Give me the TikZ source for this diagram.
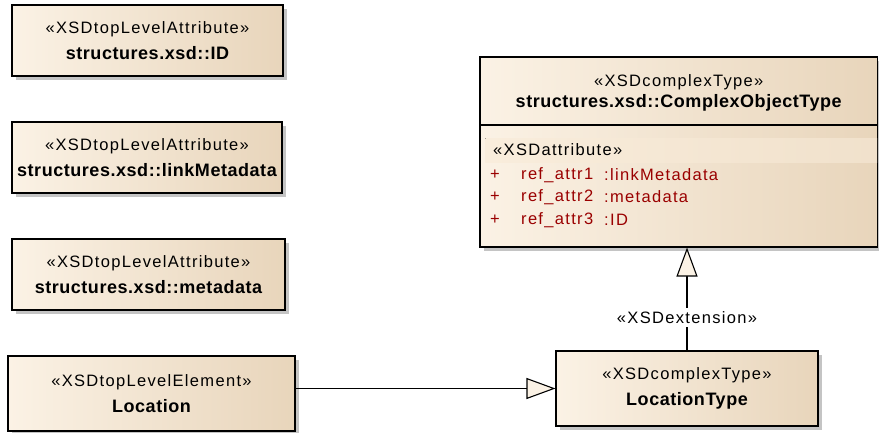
\documentclass[tikz,border=0pt]{standalone}
\usepackage{fontspec}
\setmainfont{Liberation Sans}
\newfontfamily\stereofont[LetterSpace=8]{Liberation Sans}
\newfontfamily\namefont[LetterSpace=3]{Liberation Sans Bold}
\usepackage{xcolor}
\usetikzlibrary{arrows.meta, positioning, shadows}
\definecolor{boxlight}{HTML}{FBF2E5}
\definecolor{boxdark}{HTML}{E8D5BB}
\definecolor{bandfill}{HTML}{F9EDDC}
\definecolor{attrred}{HTML}{9A0000}
\definecolor{shadowgray}{HTML}{C4C4C4}
\newcommand{\stereo}[1]{{\stereofont\fontsize{16.5}{26}\selectfont #1}}
\newcommand{\xsdname}[1]{{\namefont\fontsize{18}{26}\selectfont #1}}

\begin{document}
\begin{tikzpicture}[x=1pt,y=-1pt,>={Triangle[length=29pt,width=21pt,fill=boxlight]},
        xsdbox/.style={draw=black, line width=1.1pt, left color=boxlight, right color=boxdark,
          align=center, inner sep=0pt, font=\fontsize{16.5}{26}\selectfont,
          drop shadow={shadow xshift=4pt, shadow yshift=-4pt, fill=shadowgray, opacity=1}},
        attrtext/.style={anchor=west, inner sep=0pt, text=attrred, font=\stereofont\fontsize{16.5}{18}\selectfont},
        link/.style={draw=black, line width=1.1pt}]
      \useasboundingbox (0,0) rectangle (879,432);

      % top level attributes
      \node[xsdbox, minimum width=271pt, minimum height=71pt] (attrID) at (147.5,40.5)
          {\stereo{«XSDtopLevelAttribute»}\\ \xsdname{structures.xsd::ID}};
      \node[xsdbox, minimum width=270pt, minimum height=71pt] (attrLink) at (147,157.5)
          {\stereo{«XSDtopLevelAttribute»}\\ \xsdname{structures.xsd::linkMetadata}};
      \node[xsdbox, minimum width=273pt, minimum height=71pt] (attrMeta) at (148.5,274.5)
          {\stereo{«XSDtopLevelAttribute»}\\ \xsdname{structures.xsd::metadata}};

      \node[xsdbox, minimum width=287pt, minimum height=75pt] (location) at (151.5,393.5)
          {\stereo{«XSDtopLevelElement»}\\ \xsdname{Location}};
      \node[xsdbox, minimum width=262pt, minimum height=75pt] (locType) at (687,388.5)
          {\stereo{«XSDcomplexType»}\\ \xsdname{LocationType}};

      % complex object type with its attributes
      \node[xsdbox, minimum width=397.5pt, minimum height=190pt] (cot) at (678.75,152) {};
      \node[inner sep=0pt] (cotSt) at (cot.north |- 0,82) {\stereo{«XSDcomplexType»}};
      \node[inner sep=0pt] (cotName) at (cot.north |- 0,103) {\xsdname{structures.xsd::ComplexObjectType}};
      \draw[line width=1.1pt] (cot.west |- 0,125) -- (cot.east |- 0,125);
      \fill[left color=bandfill, right color=boxdark!50!bandfill] ([xshift=6pt]cot.west |- 0,138) rectangle ([xshift=-1pt]cot.east |- 0,162);
      \node[attrtext, text=black] (attrSt) at (493,150) {«XSDattribute»};
      \node[attrtext] (plus1) at (490,175) {+};
      \node[attrtext] (name1) at (521,175) {ref\_attr1};
      \node[attrtext] (type1) at (604,175) {:linkMetadata};
      \node[attrtext] (plus2) at (490,197) {+};
      \node[attrtext] (name2) at (521,197) {ref\_attr2};
      \node[attrtext] (type2) at (604,197) {:metadata};
      \node[attrtext] (plus3) at (490,220) {+};
      \node[attrtext] (name3) at (521,220) {ref\_attr3};
      \node[attrtext] (type3) at (604,220) {:ID};

      \draw[link,->] (locType.west -| location.east) -- (locType.west);
      \draw[link,->] (locType.north) -- node[pos=0.32, fill=white, inner sep=3pt] {\stereo{«XSDextension»}} (locType.north |- cot.south);
\end{tikzpicture}
\end{document}
